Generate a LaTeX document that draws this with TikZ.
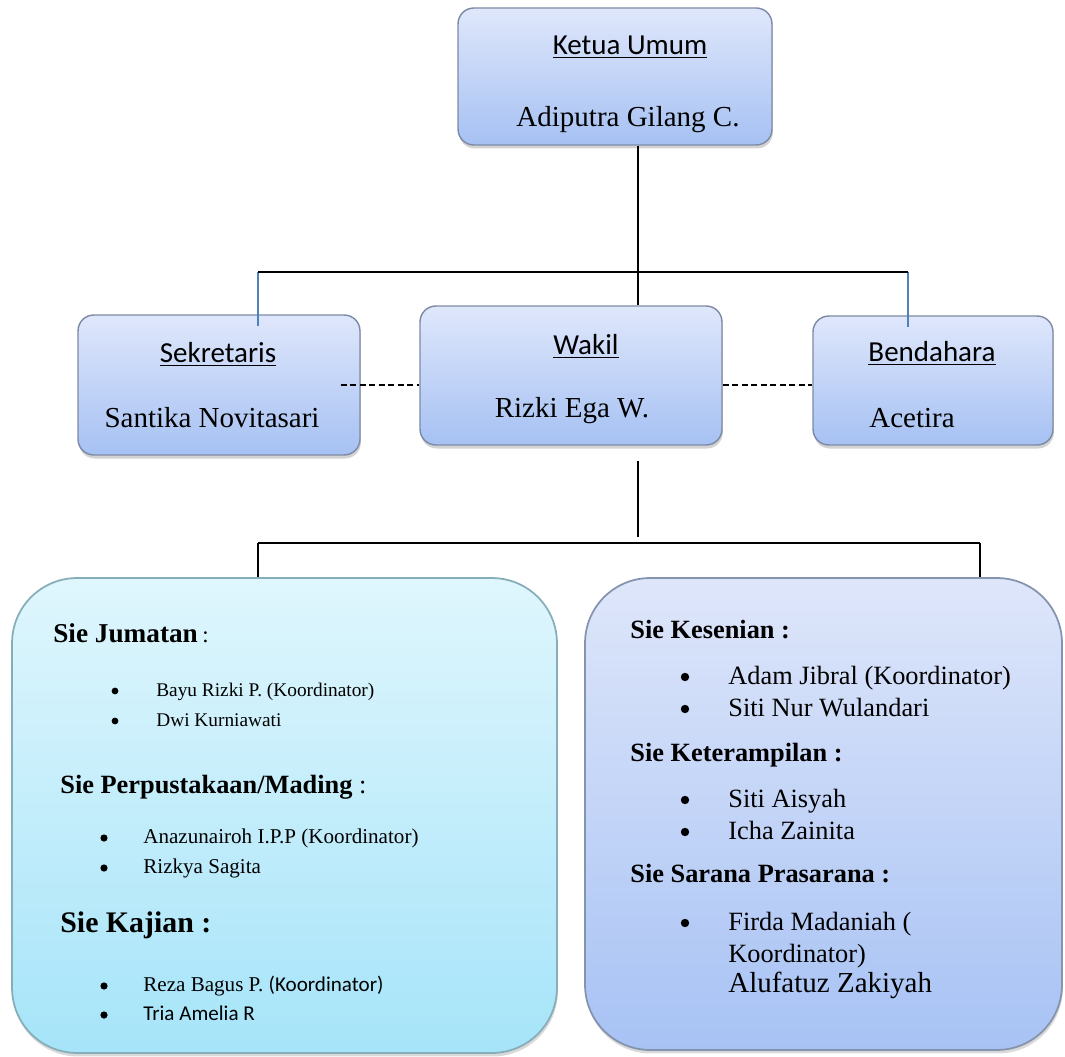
\documentclass[tikz,border=0pt]{standalone}
\usepackage{fontspec}
\setmainfont{Liberation Serif}
\newfontfamily\calibri{Carlito}
\usetikzlibrary{shadows,calc}

\definecolor{boxtop}{HTML}{DFE7FB}
\definecolor{boxbottom}{HTML}{A6C1F3}
\definecolor{boxedge}{HTML}{7D8AA5}
\definecolor{cyantop}{HTML}{DFF6FD}
\definecolor{cyanbottom}{HTML}{A6E4F9}
\definecolor{cyanedge}{HTML}{86AEB9}
\definecolor{lavtop}{HTML}{DEE6FA}
\definecolor{lavbottom}{HTML}{A7C2F4}
\definecolor{lavedge}{HTML}{8594AE}
\definecolor{linkblue}{HTML}{4F81BD}

\begin{document}
\begin{tikzpicture}[x=0.02cm,y=0.02cm]
	\tikzstyle{every node}+=[inner sep=0pt]
	\tikzstyle{orgbox}=[rectangle, rounded corners=9pt, draw=boxedge, line width=0.8pt,
		top color=boxtop, bottom color=boxbottom,
		drop shadow={shadow xshift=0.5pt, shadow yshift=-2pt, opacity=0.35}]
	\tikzstyle{sectbox}=[rectangle, rounded corners=37pt, line width=1pt,
		drop shadow={shadow xshift=0.5pt, shadow yshift=-2pt, opacity=0.3}]
	\tikzstyle{post}=[anchor=base, font=\calibri\fontsize{16.5}{20}\selectfont]
	\tikzstyle{person}=[anchor=base, font=\fontsize{16.5}{20}\selectfont]
	\tikzstyle{line}=[anchor=base west]
	\tikzstyle{link}=[black, line width=1.3pt]
	\tikzstyle{bluelink}=[linkblue, line width=1pt]
	\tikzstyle{dashlink}=[black, line width=0.8pt, dash pattern=on 3.6pt off 1.8pt]
	\useasboundingbox (0,0) rectangle (1065,-1057);
	% pengurus inti
	\node [orgbox, minimum width=6.28cm, minimum height=2.74cm] (ketua) at (615,-76.5) {};
	\node [orgbox, minimum width=5.64cm, minimum height=2.8cm] (sekre) at (219,-385) {};
	\node [orgbox, minimum width=6.04cm, minimum height=2.78cm] (wakil) at (571,-375.5) {};
	\node [orgbox, minimum width=4.8cm, minimum height=2.58cm] (benda) at (933,-380.5) {};
	\node [post] (ketuaT) at (630,-55) {\underline{Ketua Umum}};
	\node [person] (ketuaN) at (628,-127) {Adiputra Gilang C.};
	\node [post] (sekreT) at (218,-363) {\underline{Sekretaris}};
	\node [person] (sekreN) at (212,-428) {Santika Novitasari};
	\node [post] (wakilT) at (586,-355) {\underline{Wakil}};
	\node [person] (wakilN) at (572,-418) {Rizki Ega W.};
	\node [post] (bendaT) at (932,-362) {\underline{Bendahara}};
	\node [person] (bendaN) at (912,-428) {Acetira};
	% seksi-seksi
	\node [sectbox, draw=cyanedge, top color=cyantop, bottom color=cyanbottom,
		minimum width=10.9cm, minimum height=9.5cm] (leftsie) at (284.5,-815.5) {};
	\node [sectbox, draw=lavedge, top color=lavtop, bottom color=lavbottom,
		minimum width=9.54cm, minimum height=9.44cm] (rightsie) at (823.5,-814) {};
	% isi kiri
	\node [line, font=\fontsize{15.5}{18}\selectfont] (jumH) at (53,-642)
		{\textbf{Sie Jumatan}\,{\fontsize{13}{15}\selectfont :}};
	\node [line, font=\fontsize{11}{13}\selectfont] (jum1) at (156,-696) {Bayu Rizki P. (Koordinator)};
	\node [line, font=\fontsize{11}{13}\selectfont] (jum2) at (156,-726) {Dwi Kurniawati};
	\node [line, font=\fontsize{15}{18}\selectfont] (pusH) at (60,-793)
		{\textbf{Sie Perpustakaan/Mading} :};
	\node [line, font=\fontsize{12}{14}\selectfont] (pus1) at (143,-843) {Anazunairoh I.P.P (Koordinator)};
	\node [line, font=\fontsize{12}{14}\selectfont] (pus2) at (143,-873) {Rizkya Sagita};
	\node [line, font=\bfseries\fontsize{17}{20}\selectfont] (kajH) at (60,-932) {Sie Kajian :};
	\node [line, font=\fontsize{12}{14}\selectfont] (kaj1) at (143,-991)
		{Reza Bagus P. {\calibri (Koordinator)}};
	\node [line, font=\calibri\fontsize{12}{14}\selectfont] (kaj2) at (143,-1020) {Tria Amelia R};
	% isi kanan
	\node [line, font=\bfseries\fontsize{15}{18}\selectfont] (senH) at (630,-638) {Sie Kesenian :};
	\node [line, font=\fontsize{15}{18}\selectfont] (sen1) at (728,-684) {Adam Jibral (Koordinator)};
	\node [line, font=\fontsize{15}{18}\selectfont] (sen2) at (728,-716) {Siti Nur Wulandari};
	\node [line, font=\bfseries\fontsize{15}{18}\selectfont] (terH) at (630,-761) {Sie Keterampilan :};
	\node [line, font=\fontsize{15}{18}\selectfont] (ter1) at (728,-807) {Siti Aisyah};
	\node [line, font=\fontsize{15}{18}\selectfont] (ter2) at (728,-839) {Icha Zainita};
	\node [line, font=\bfseries\fontsize{15}{18}\selectfont] (sarH) at (630,-882) {Sie Sarana Prasarana :};
	\node [line, font=\fontsize{15}{18}\selectfont] (sar1) at (728,-930) {Firda Madaniah (};
	\node [line, font=\fontsize{15}{18}\selectfont] (sar2) at (728,-962) {Koordinator)};
	\node [line, font=\fontsize{16.5}{20}\selectfont] (sar3) at (728,-992) {Alufatuz Zakiyah};
	% bullets
	\foreach \item in {jum1,jum2}
		\fill ($(\item.base west)+(-41,5)$) circle (3.4);
	\foreach \item in {pus1,pus2,kaj1,kaj2}
		\fill ($(\item.base west)+(-39,5)$) circle (3.6);
	\foreach \item in {sen1,sen2,ter1,ter2,sar1}
		\fill ($(\item.base west)+(-43,7)$) circle (4.2);
	% garis
	\coordinate (topjoint) at (638,-272);
	\coordinate (sekjoint) at (258,-272);
	\coordinate (benjoint) at (908,-272);
	\coordinate (midjoint) at (638,-543);
	\coordinate (jumjoint) at (258,-543);
	\coordinate (senjoint) at (980,-543);
	\draw [bluelink] (sekjoint) -- ($(sekjoint |- sekre.north)+(0,-12)$);
	\draw [bluelink] (benjoint) -- ($(benjoint |- benda.north)+(0,-12)$);
	\draw [link] (ketua.south -| topjoint) -- (wakil.north -| topjoint);
	\draw [link] (sekjoint) -- (benjoint);
	\draw [dashlink] ($(sekre.east)+(-20,0)$) -- (sekre.east -| wakil.west);
	\draw [dashlink] (wakil.east |- sekre.east) -- (benda.west |- sekre.east);
	\draw [link] ($(wakil.south -| midjoint)+(0,-15)$) -- ($(midjoint)+(0,6)$);
	\draw [link] (jumjoint) -- (senjoint);
	\draw [link] (jumjoint) -- (jumjoint |- leftsie.north);
	\draw [link] (senjoint) -- (senjoint |- rightsie.north);
\end{tikzpicture}
\end{document}
